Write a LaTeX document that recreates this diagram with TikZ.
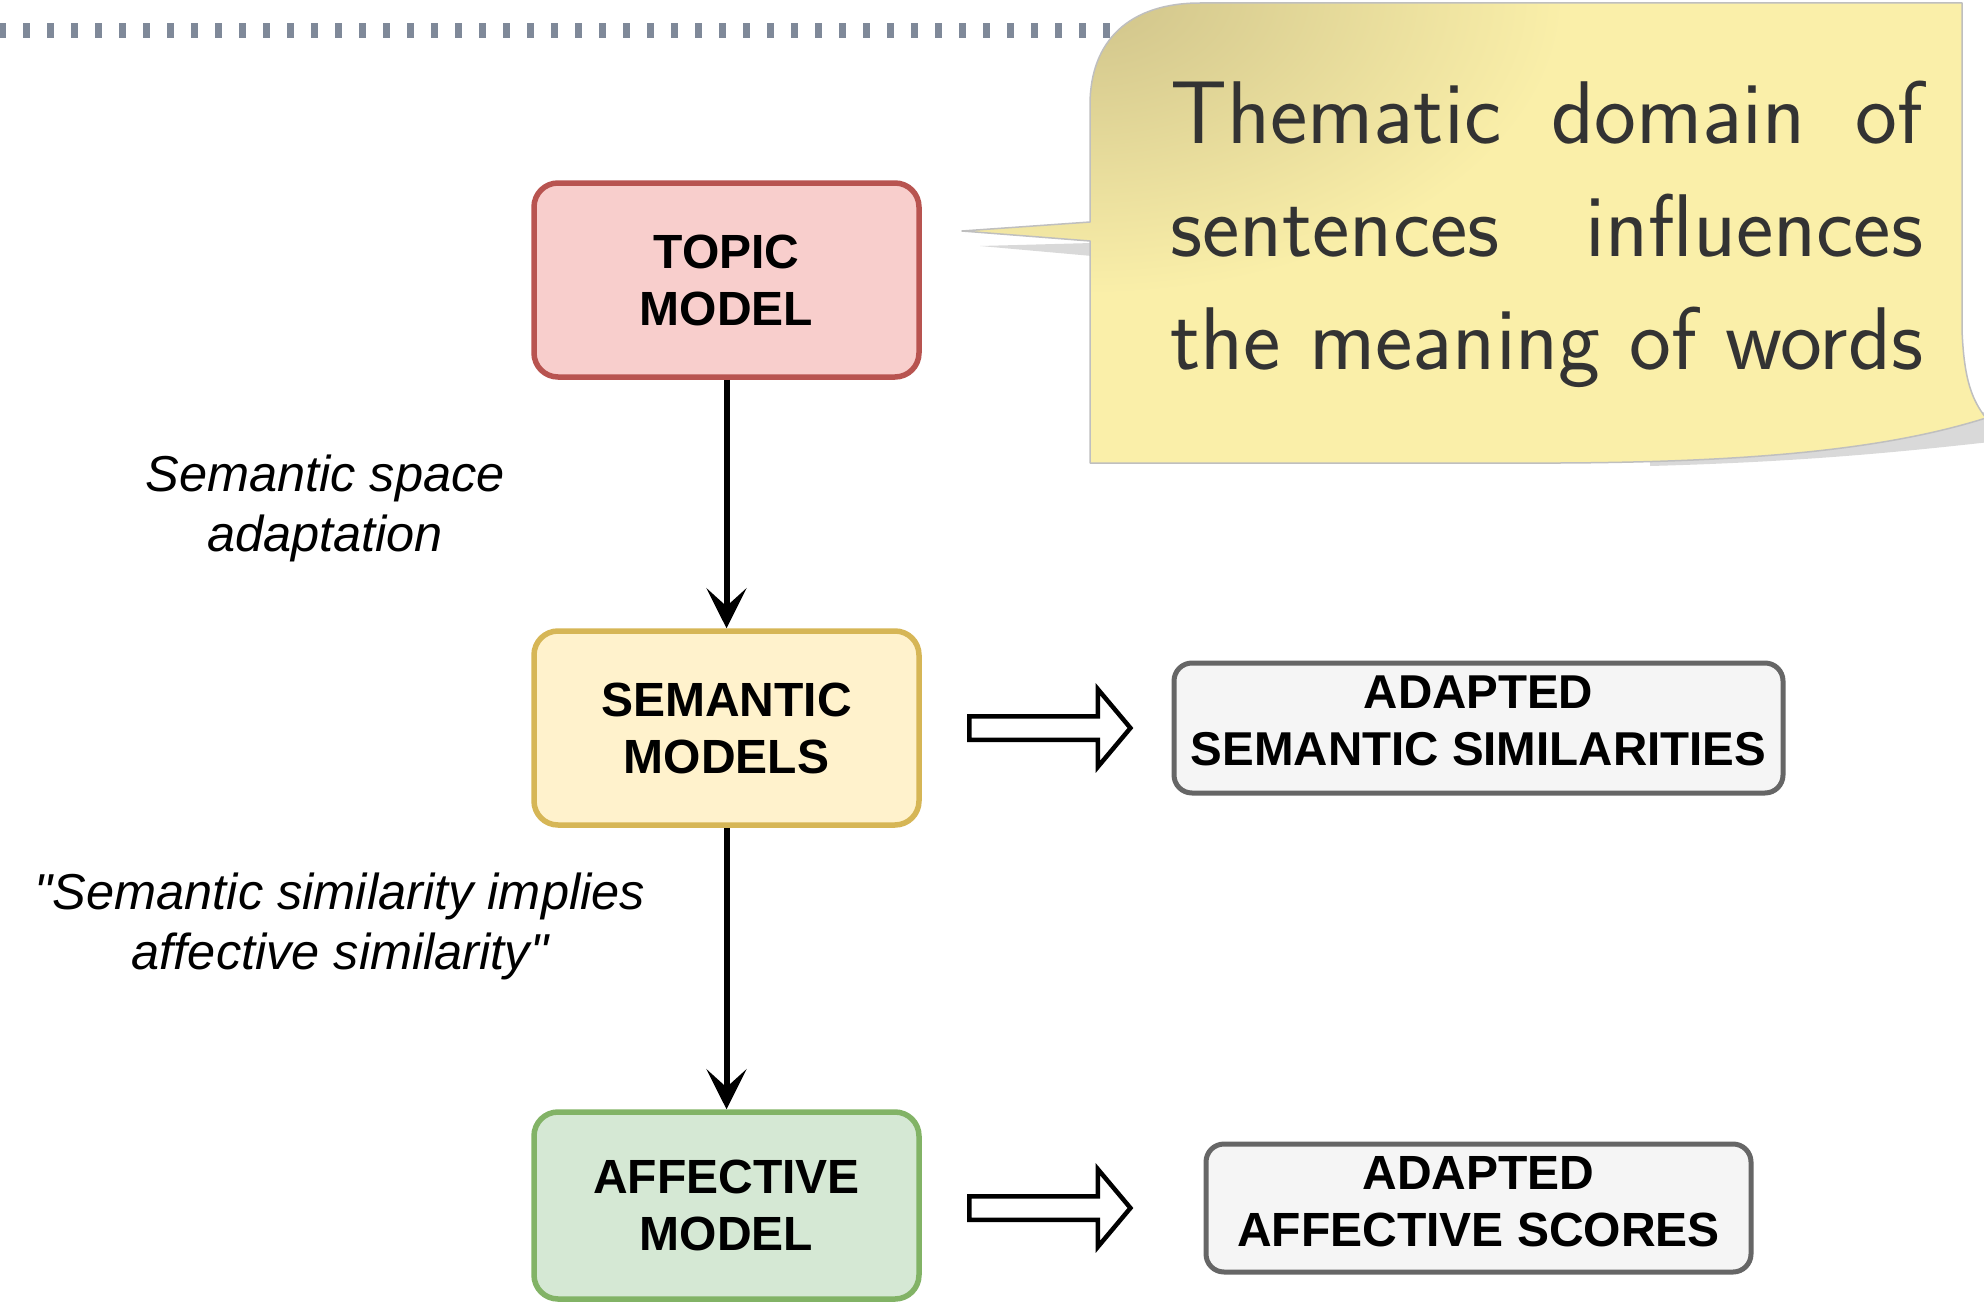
\documentclass[tikz,border=0pt]{standalone}
\usepackage{fontspec}
\setmainfont{Liberation Sans}
\usetikzlibrary{arrows.meta,shapes.arrows,calc}
\definecolor{topicfill}{HTML}{F8CECC}
\definecolor{topicdraw}{HTML}{B85450}
\definecolor{semfill}{HTML}{FFF2CC}
\definecolor{semdraw}{HTML}{D6B656}
\definecolor{afffill}{HTML}{D5E8D4}
\definecolor{affdraw}{HTML}{82B366}
\definecolor{resfill}{HTML}{F5F5F5}
\definecolor{resdraw}{HTML}{666666}
\definecolor{notefill}{HTML}{FAEFA9}
\definecolor{notedark}{HTML}{CFC38A}
\definecolor{notetext}{HTML}{333333}
\definecolor{dotgray}{HTML}{7F8999}
\newcommand\notepath{(1090,463) -- (1090,241) -- (962,231) -- (1090,222) -- (1090,105)
  .. controls (1090,40) and (1130,3) .. (1200,3) -- (1962,3) -- (1962,330)
  .. controls (1964,380) and (1972,400) .. (1986,418)
  .. controls (1900,445) and (1780,462) .. (1560,463) -- cycle}
\begin{document}
\begin{tikzpicture}[x=1pt, y=-1pt, line join=round,
  box/.style={draw, rounded corners=24pt, line width=5.5pt, minimum width=385pt, minimum height=194pt,
    inner sep=0pt, align=center, font=\fontsize{48}{57}\selectfont\bfseries},
  result/.style={draw=resdraw, fill=resfill, rounded corners=18pt, line width=5pt, inner sep=0pt,
    text depth=14pt, align=center, font=\fontsize{48}{57}\selectfont\bfseries},
  lbl/.style={align=center, inner sep=0pt, font=\fontsize{50.5}{60}\selectfont\itshape},
  flow/.style={line width=6pt, -{Stealth[length=40pt, width=40pt, inset=18pt]}},
  hollow/.style={single arrow, draw, fill=white, line width=4.5pt, inner xsep=0pt, inner ysep=9.5pt,
    single arrow head extend=27pt, single arrow tip angle=100, minimum height=161pt, line join=miter}]
\useasboundingbox (0,0) rectangle (1984,1303);
\draw[dotgray, line width=15pt, dash pattern=on 7pt off 17pt] (-1,30.5) -- (1150,30.5);
\fill[black!15] (1092,243) -- (980,246) -- (1092,256) -- cycle;
\fill[black!15] (1975,415) -- (1990,410) -- (1990,442) .. controls (1900,452) and (1800,462) .. (1650,466) -- (1650,460) -- cycle;
\fill[notefill] \notepath;
\begin{scope}
  \clip \notepath;
  \shade[inner color=notedark, outer color=notefill] (1085,-5) ellipse [x radius=480pt, y radius=300pt];
\end{scope}
\draw[black!25, line width=1.5pt] \notepath;
\node[anchor=north west, inner sep=0pt, align=left, text=notetext, font=\fontsize{89}{113}\selectfont\sffamily] (remark) at (1170,81)
  {\makebox[753pt][s]{Thematic domain of}\\ \makebox[753pt][s]{sentences influences}\\ \makebox[753pt][s]{the meaning of words}};

\node[box, draw=topicdraw, fill=topicfill] (topic) at (726.5,280) {TOPIC\\MODEL};
\node[box, draw=semdraw, fill=semfill] (semantic) at (726.5,728) {SEMANTIC\\MODELS};
\node[box, draw=affdraw, fill=afffill, minimum height=187pt] (affective) at (726.5,1205.5) {AFFECTIVE\\MODEL};
\node[result, minimum width=609pt, minimum height=130pt, font=\fontsize{47.5}{57}\selectfont\bfseries] (adaptsem) at (1478.5,728) {ADAPTED\\SEMANTIC SIMILARITIES};
\node[result, minimum width=545pt, minimum height=128pt] (adaptaff) at (1478.5,1208) {ADAPTED\\AFFECTIVE SCORES};

\node[lbl] (spacelbl) at (325,508) {Semantic space\\adaptation};
\node[lbl] (simlbl) at (340,926) {\textquotedbl Semantic similarity implies\\affective similarity\textquotedbl};

\draw[flow] (topic) -- (semantic);
\draw[flow] (semantic) -- (affective);
\node[hollow] (semtores) at (1045,728) {};
\node[hollow] (afftores) at (semtores |- adaptaff) {};
\end{tikzpicture}
\end{document}
